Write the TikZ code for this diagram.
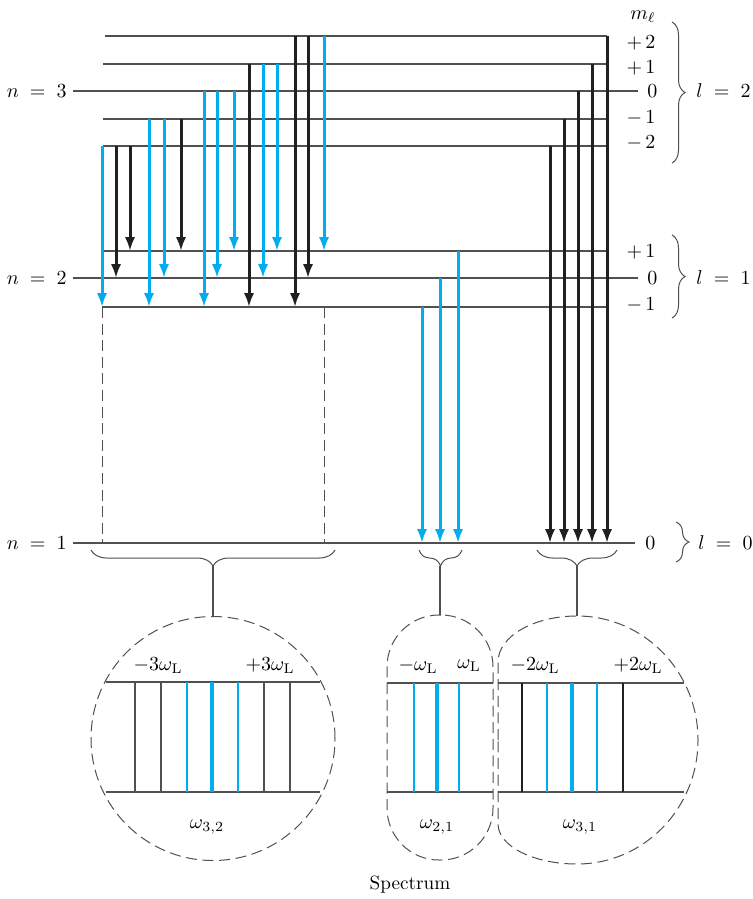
\documentclass[tikz,border=0pt]{standalone}
\usepackage{amsmath}
\usepackage{amssymb}
\usepackage{tikz}
\usetikzlibrary{arrows.meta, positioning, decorations.pathreplacing}
\usepackage{xcolor}

\definecolor{lineblue}{RGB}{0,174,239}
\definecolor{lineblack}{RGB}{35,31,32}
\definecolor{levelgray}{RGB}{80,80,80}

\begin{document}
\begin{tikzpicture}[
    x=0.5pt, y=-0.5pt,
    every node/.style={inner sep=1pt, font=\fontsize{9.6pt}{11pt}\selectfont},
    lvl/.style={draw=levelgray, line width=0.65pt},
    bluearrow/.style={-{Latex[length=7pt,width=5.2pt]}, draw=lineblue, line width=1.5pt},
    blackarrow/.style={-{Latex[length=7pt,width=5.2pt]}, draw=lineblack, line width=1.5pt},
    guide/.style={draw=levelgray, line width=0.5pt, dash pattern=on 5.5pt off 2.8pt},
    rbrace/.style={decorate, decoration={brace, amplitude=6.5pt}, draw=levelgray, line width=0.5pt},
    ubrace/.style={decorate, decoration={brace, mirror, amplitude=8pt}, draw=levelgray, line width=0.5pt},
    stem/.style={draw=levelgray, line width=0.6pt},
    thinline/.style={draw=levelgray, line width=0.65pt},
    blueline/.style={draw=lineblue, line width=0.9pt},
    mainline/.style={draw=lineblue, line width=2.4pt},
    darkline/.style={draw=lineblack, line width=1pt}
]
\useasboundingbox (0,0) rectangle (753,899);

% ---------- LEVELS
\coordinate (l3p2) at (105,36);
\coordinate (l3p1) at (103,64);
\coordinate (l3z)  at (73,91);
\coordinate (l3m1) at (103,119);
\coordinate (l3m2) at (103,146);
\coordinate (l2p1) at (103,251);
\coordinate (l2z)  at (73,278);
\coordinate (l2m1) at (102,307);
\coordinate (l1z)  at (73,543);

\draw[lvl] (l3p2) -- (607,0 |- l3p2);
\draw[lvl] (l3p1) -- (607,0 |- l3p1);
\draw[lvl] (l3z)  -- (638,0 |- l3z);
\draw[lvl] (l3m1) -- (607,0 |- l3m1);
\draw[lvl] (l3m2) -- (607,0 |- l3m2);
\draw[lvl] (l2p1) -- (607,0 |- l2p1);
\draw[lvl] (l2z)  -- (638,0 |- l2z);
\draw[lvl] (l2m1) -- (607,0 |- l2m1);
\draw[lvl] (l1z)  -- (635,0 |- l1z);

% ---------- LEFT LABELS
\node (n3) [left=2pt of l3z] {$n\;=\;3$};
\node (n2) [left=2pt of l2z] {$n\;=\;2$};
\node (n1) [left=2pt of l1z] {$n\;=\;1$};

% ---------- RIGHT LABELS
\node (ml) at (643,17) {$m_\ell$};
\node (m3p2) at (641,43) {$+\,2$};
\node (m3p1) at (641,68) {$+\,1$};
\node (m3z) [anchor=west] at (645,91) {$0$};
\node (m3m1) at (641,118) {$-\,1$};
\node (m3m2) at (641,143) {$-\,2$};
\node (m2p1) at (641,252) {$+\,1$};
\node (m2z) [anchor=west] at (645,278) {$0$};
\node (m2m1) at (641,305) {$-\,1$};
\node (m1z) [anchor=west] at (643,543) {$0$};

\draw[rbrace] (672,22) -- (672,163);
\draw[rbrace] (672,235) -- (672,318);
\draw[rbrace] (676,522) -- (676,562);
\node (ell2) [anchor=west] at (694,91) {$l\;=\;2$};
\node (ell1) [anchor=west] at (694,278) {$l\;=\;1$};
\node (ell0) [anchor=west] at (696,543) {$l\;=\;0$};

% ---------- n = 3 TO n = 2
\draw[bluearrow]  (102,0 |- l3m2) -- (102,0 |- l2m1);
\draw[blackarrow] (116,0 |- l3m2) -- (116,0 |- l2z);
\draw[blackarrow] (130,0 |- l3m2) -- (130,0 |- l2p1);
\draw[bluearrow]  (149,0 |- l3m1) -- (149,0 |- l2m1);
\draw[bluearrow]  (164,0 |- l3m1) -- (164,0 |- l2z);
\draw[blackarrow] (181,0 |- l3m1) -- (181,0 |- l2p1);
\draw[bluearrow]  (204,0 |- l3z)  -- (204,0 |- l2m1);
\draw[bluearrow]  (217,0 |- l3z)  -- (217,0 |- l2z);
\draw[bluearrow]  (234,0 |- l3z)  -- (234,0 |- l2p1);
\draw[blackarrow] (249,0 |- l3p1) -- (249,0 |- l2m1);
\draw[bluearrow]  (263,0 |- l3p1) -- (263,0 |- l2z);
\draw[bluearrow]  (277,0 |- l3p1) -- (277,0 |- l2p1);
\draw[blackarrow] (295,0 |- l3p2) -- (295,0 |- l2m1);
\draw[blackarrow] (308,0 |- l3p2) -- (308,0 |- l2z);
\draw[bluearrow]  (324,0 |- l3p2) -- (324,0 |- l2p1);

% ---------- n = 2 TO n = 1
\draw[bluearrow] (422,0 |- l2m1) -- (422,0 |- l1z);
\draw[bluearrow] (440,0 |- l2z)  -- (440,0 |- l1z);
\draw[bluearrow] (458,0 |- l2p1) -- (458,0 |- l1z);

% ---------- n = 3 TO n = 1
\draw[blackarrow] (550,0 |- l3m2) -- (550,0 |- l1z);
\draw[blackarrow] (564,0 |- l3m1) -- (564,0 |- l1z);
\draw[blackarrow] (578,0 |- l3z)  -- (578,0 |- l1z);
\draw[blackarrow] (592,0 |- l3p1) -- (592,0 |- l1z);
\draw[blackarrow] (607,0 |- l3p2) -- (607,0 |- l1z);

% ---------- DASHED GUIDES
\draw[guide] (102,0 |- l2m1) -- (102,0 |- l1z);
\draw[guide] (324,0 |- l2m1) -- (324,0 |- l1z);

% ---------- BRACES UNDER n = 1
\draw[ubrace] (91,550) -- (335,550);
\draw[ubrace] (419,550) -- (462,550);
\draw[ubrace] (537,550) -- (617,550);
\coordinate (tip32) at (213,566);
\coordinate (tip21) at (440,566);
\coordinate (tip31) at (577,566);

% ---------- SPECTRUM OUTLINES
\node (spec32) [circle, guide, minimum size=122pt, inner sep=0pt] at (213,738.5) {};
\node (spec21) [rectangle, rounded corners=26pt, guide, minimum width=53pt,
    minimum height=122.5pt, inner sep=0pt] at (440,737.5) {};
\coordinate (top31) at (577,616);
\draw[guide] (498,740) -- (498,662)
    arc[start angle=180, end angle=90, x radius=39.5pt, y radius=23pt]
    arc[start angle=90, end angle=-90, x radius=60.5pt, y radius=62pt]
    arc[start angle=-90, end angle=-180, x radius=39.5pt, y radius=20pt] -- cycle;

\draw[stem] (tip32) -- (spec32.north);
\draw[stem] (tip21) -- (spec21.north);
\draw[stem] (tip31) -- (top31);

% ---------- SPECTRUM omega_32
\draw[thinline] (106,682) -- (320,682);
\draw[thinline] (106,792) -- (320,792);
\draw[thinline] (135,682) -- (135,792);
\draw[thinline] (161,682) -- (161,792);
\draw[blueline] (187,682) -- (187,792);
\draw[mainline] (212,682) -- (212,792);
\draw[blueline] (238,682) -- (238,792);
\draw[thinline] (264,682) -- (264,792);
\draw[thinline] (290,682) -- (290,792);
\node (m3w) at (158,666) {$-3\omega_{\mathrm{L}}$};
\node (p3w) at (270,666) {$+3\omega_{\mathrm{L}}$};
\node (w32) at (207,827) {$\omega_{3,2}$};

% ---------- SPECTRUM omega_21
\draw[thinline] (387,683) -- (493,683);
\draw[thinline] (387,792) -- (493,792);
\draw[blueline] (414,683) -- (414,792);
\draw[mainline] (437,683) -- (437,792);
\draw[blueline] (459,683) -- (459,792);
\node (m1w) at (418,666) {$-\omega_{\mathrm{L}}$};
\node (p1w) at (469,666) {$\omega_{\mathrm{L}}$};
\node (w21) at (437,827) {$\omega_{2,1}$};

% ---------- SPECTRUM omega_31
\draw[thinline] (498,683) -- (684,683);
\draw[thinline] (498,792) -- (684,792);
\draw[darkline] (522,683) -- (522,792);
\draw[blueline] (547,683) -- (547,792);
\draw[mainline] (572,683) -- (572,792);
\draw[blueline] (597,683) -- (597,792);
\draw[darkline] (623,683) -- (623,792);
\node (m2w) at (535,666) {$-2\omega_{\mathrm{L}}$};
\node (p2w) at (638,666) {$+2\omega_{\mathrm{L}}$};
\node (w31) at (580,827) {$\omega_{3,1}$};

\node (spectrum) at (410,885) {Spectrum};

\end{tikzpicture}
\end{document}
